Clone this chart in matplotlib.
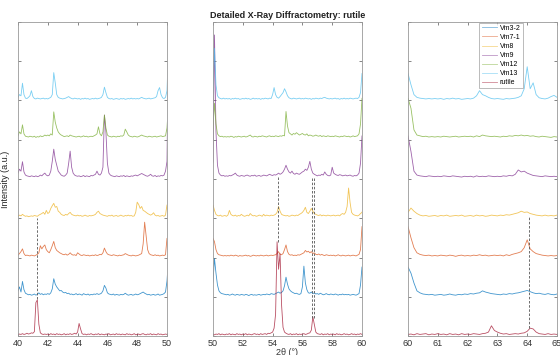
import numpy as np
import matplotlib
matplotlib.use("Agg")
import matplotlib.pyplot as plt

plt.rcParams['font.family'] = ['Liberation Sans', 'DejaVu Sans']

# 2-theta grid, 0.1 deg steps from 40 to 65
two_theta = np.arange(400, 651) / 10.0

samples = ["Vm3-2", "Vm7-1", "Vm8", "Vm9", "Vm12", "Vm13", "rutile"]
offsets = [1, 2, 3, 4, 5, 6, 0]
colors = ["#0072BD", "#D95319", "#EDB120", "#7E2F8E", "#77AC30", "#4DBEEE", "#A2142F"]

vm3_2 = [
    0.15, 0.25, 0.12, 0.39, 0.18, 0.09, 0.07, 0.05, 0.06, 0.04,
    0.05, 0.07, 0.04, 0.06, 0.10, 0.06, 0.08, 0.05, 0.07, 0.06,
    0.08, 0.06, 0.10, 0.20, 0.46, 0.32, 0.25, 0.20, 0.15, 0.16,
    0.12, 0.10, 0.11, 0.08, 0.09, 0.06, 0.07, 0.05, 0.06, 0.08,
    0.05, 0.07, 0.06, 0.04, 0.08, 0.06, 0.05, 0.07, 0.04, 0.06,
    0.05, 0.07, 0.06, 0.08, 0.06, 0.07, 0.09, 0.15, 0.29, 0.22,
    0.10, 0.07, 0.06, 0.05, 0.07, 0.04, 0.06, 0.05, 0.04, 0.06,
    0.05, 0.06, 0.09, 0.06, 0.04, 0.05, 0.06, 0.04, 0.05, 0.07,
    0.05, 0.06, 0.08, 0.10, 0.12, 0.09, 0.07, 0.05, 0.06, 0.04,
    0.05, 0.06, 0.04, 0.05, 0.07, 0.04, 0.05, 0.06, 0.08, 0.12,
    0.40, 0.97, 0.60, 0.30, 0.15, 0.10, 0.08, 0.07, 0.06, 0.05,
    0.06, 0.04, 0.05, 0.07, 0.05, 0.04, 0.06, 0.05, 0.04, 0.06,
    0.05, 0.04, 0.06, 0.05, 0.03, 0.05, 0.06, 0.04, 0.05, 0.04,
    0.05, 0.06, 0.04, 0.05, 0.06, 0.05, 0.07, 0.06, 0.05, 0.08,
    0.07, 0.06, 0.08, 0.10, 0.12, 0.09, 0.11, 0.15, 0.28, 0.50,
    0.32, 0.20, 0.15, 0.12, 0.10, 0.08, 0.09, 0.07, 0.06, 0.08,
    0.25, 0.78, 0.35, 0.18, 0.10, 0.09, 0.12, 0.08, 0.10, 0.07,
    0.08, 0.06, 0.09, 0.07, 0.05, 0.06, 0.08, 0.06, 0.05, 0.07,
    0.06, 0.05, 0.07, 0.06, 0.04, 0.06, 0.05, 0.07, 0.05, 0.06,
    0.05, 0.06, 0.04, 0.05, 0.06, 0.05, 0.04, 0.06, 0.08, 0.30,
    0.76, 0.60, 0.35, 0.15, 0.10, 0.07, 0.06, 0.05, 0.06, 0.04,
    0.05, 0.06, 0.04, 0.05, 0.07, 0.05, 0.04, 0.06, 0.05, 0.07,
    0.06, 0.08, 0.07, 0.09, 0.10, 0.15, 0.12, 0.10, 0.08, 0.07,
    0.06, 0.05, 0.07, 0.06, 0.08, 0.07, 0.09, 0.10, 0.12, 0.14,
    0.16, 0.13, 0.10, 0.08, 0.09, 0.07, 0.06, 0.08, 0.06, 0.05,
    0.07,
]

vm7_1 = [
    0.06, 0.10, 0.15, 0.22, 0.10, 0.05, 0.06, 0.05, 0.04, 0.06,
    0.05, 0.04, 0.06, 0.08, 0.12, 0.30, 0.22, 0.28, 0.32, 0.20,
    0.15, 0.12, 0.20, 0.30, 0.41, 0.25, 0.18, 0.15, 0.12, 0.10,
    0.08, 0.07, 0.09, 0.06, 0.08, 0.12, 0.08, 0.06, 0.07, 0.05,
    0.12, 0.09, 0.06, 0.05, 0.07, 0.06, 0.05, 0.06, 0.04, 0.05,
    0.06, 0.05, 0.07, 0.05, 0.06, 0.08, 0.07, 0.12, 0.24, 0.15,
    0.09, 0.07, 0.06, 0.05, 0.07, 0.06, 0.05, 0.04, 0.06, 0.05,
    0.06, 0.07, 0.10, 0.08, 0.06, 0.05, 0.04, 0.06, 0.05, 0.04,
    0.05, 0.06, 0.08, 0.10, 0.35, 0.90, 0.55, 0.20, 0.10, 0.07,
    0.06, 0.05, 0.07, 0.05, 0.06, 0.04, 0.05, 0.06, 0.05, 0.07,
    0.49, 0.40, 0.20, 0.10, 0.07, 0.06, 0.05, 0.04, 0.05, 0.04,
    0.05, 0.04, 0.06, 0.05, 0.04, 0.06, 0.05, 0.03, 0.05, 0.04,
    0.04, 0.05, 0.06, 0.04, 0.05, 0.03, 0.04, 0.06, 0.05, 0.04,
    0.05, 0.04, 0.06, 0.05, 0.04, 0.05, 0.06, 0.04, 0.05, 0.06,
    0.05, 0.06, 0.07, 0.10, 0.15, 0.08, 0.07, 0.10, 0.20, 0.32,
    0.15, 0.08, 0.06, 0.07, 0.05, 0.06, 0.05, 0.07, 0.06, 0.08,
    0.10, 0.12, 0.18, 0.14, 0.16, 0.12, 0.15, 0.10, 0.12, 0.08,
    0.07, 0.09, 0.06, 0.08, 0.06, 0.05, 0.07, 0.06, 0.05, 0.06,
    0.05, 0.06, 0.04, 0.05, 0.07, 0.05, 0.04, 0.06, 0.05, 0.04,
    0.05, 0.06, 0.04, 0.05, 0.06, 0.05, 0.04, 0.06, 0.08, 0.20,
    0.79, 0.50, 0.25, 0.12, 0.08, 0.06, 0.05, 0.06, 0.04, 0.05,
    0.04, 0.06, 0.05, 0.04, 0.06, 0.05, 0.03, 0.05, 0.06, 0.04,
    0.05, 0.04, 0.06, 0.05, 0.07, 0.05, 0.06, 0.04, 0.05, 0.06,
    0.05, 0.06, 0.04, 0.07, 0.05, 0.08, 0.10, 0.12, 0.15, 0.25,
    0.45, 0.22, 0.15, 0.10, 0.08, 0.06, 0.05, 0.04, 0.05, 0.04,
    0.05,
]

vm8 = [
    0.05, 0.08, 0.06, 0.10, 0.07, 0.05, 0.06, 0.04, 0.05, 0.06,
    0.05, 0.07, 0.06, 0.05, 0.08, 0.10, 0.12, 0.15, 0.10, 0.20,
    0.12, 0.15, 0.25, 0.32, 0.38, 0.28, 0.30, 0.18, 0.15, 0.10,
    0.08, 0.07, 0.10, 0.08, 0.12, 0.15, 0.10, 0.08, 0.07, 0.06,
    0.08, 0.06, 0.07, 0.05, 0.06, 0.08, 0.06, 0.05, 0.07, 0.06,
    0.07, 0.08, 0.10, 0.15, 0.18, 0.12, 0.10, 0.08, 0.07, 0.06,
    0.05, 0.07, 0.06, 0.08, 0.05, 0.06, 0.07, 0.05, 0.06, 0.08,
    0.06, 0.05, 0.07, 0.06, 0.08, 0.06, 0.07, 0.05, 0.06, 0.15,
    0.41, 0.35, 0.25, 0.30, 0.20, 0.18, 0.15, 0.12, 0.10, 0.08,
    0.10, 0.14, 0.08, 0.06, 0.07, 0.05, 0.06, 0.07, 0.05, 0.08,
    0.34, 0.20, 0.10, 0.07, 0.06, 0.08, 0.05, 0.06, 0.07, 0.05,
    0.08, 0.20, 0.10, 0.07, 0.06, 0.08, 0.05, 0.07, 0.06, 0.10,
    0.07, 0.05, 0.06, 0.08, 0.06, 0.12, 0.08, 0.06, 0.07, 0.05,
    0.06, 0.08, 0.07, 0.05, 0.10, 0.06, 0.08, 0.07, 0.06, 0.08,
    0.07, 0.08, 0.10, 0.15, 0.30, 0.18, 0.10, 0.08, 0.07, 0.06,
    0.07, 0.05, 0.06, 0.08, 0.07, 0.06, 0.08, 0.07, 0.10, 0.12,
    0.15, 0.20, 0.28, 0.15, 0.12, 0.18, 0.25, 0.18, 0.12, 0.10,
    0.08, 0.07, 0.09, 0.06, 0.08, 0.07, 0.06, 0.08, 0.07, 0.06,
    0.07, 0.08, 0.06, 0.07, 0.08, 0.06, 0.10, 0.12, 0.10, 0.15,
    0.30, 0.77, 0.40, 0.15, 0.10, 0.08, 0.07, 0.06, 0.08, 0.12,
    0.15, 0.26, 0.18, 0.12, 0.08, 0.06, 0.07, 0.05, 0.06, 0.07,
    0.05, 0.07, 0.06, 0.08, 0.05, 0.06, 0.07, 0.06, 0.08, 0.05,
    0.06, 0.07, 0.05, 0.08, 0.06, 0.07, 0.05, 0.06, 0.08, 0.07,
    0.06, 0.08, 0.07, 0.09, 0.08, 0.10, 0.12, 0.14, 0.18, 0.15,
    0.16, 0.12, 0.10, 0.08, 0.07, 0.06, 0.08, 0.06, 0.07, 0.06,
    0.08,
]

vm9 = [
    0.15, 0.25, 0.20, 0.44, 0.18, 0.10, 0.08, 0.07, 0.06, 0.08,
    0.07, 0.06, 0.08, 0.06, 0.07, 0.10, 0.08, 0.12, 0.15, 0.10,
    0.08, 0.10, 0.20, 0.45, 0.76, 0.50, 0.35, 0.20, 0.15, 0.10,
    0.08, 0.07, 0.10, 0.15, 0.40, 0.71, 0.30, 0.15, 0.10, 0.08,
    0.07, 0.08, 0.06, 0.07, 0.09, 0.06, 0.08, 0.07, 0.06, 0.09,
    0.08, 0.10, 0.12, 0.20, 0.12, 0.10, 0.15, 0.30, 1.63, 1.20,
    0.40, 0.15, 0.10, 0.08, 0.07, 0.06, 0.08, 0.07, 0.06, 0.08,
    0.07, 0.09, 0.06, 0.08, 0.07, 0.06, 0.08, 0.07, 0.09, 0.10,
    0.08, 0.10, 0.12, 0.14, 0.12, 0.10, 0.08, 0.07, 0.09, 0.12,
    0.08, 0.07, 0.09, 0.06, 0.08, 0.07, 0.09, 0.08, 0.10, 0.20,
    0.45, 3.67, 1.20, 0.35, 0.15, 0.10, 0.08, 0.09, 0.07, 0.08,
    0.07, 0.09, 0.08, 0.10, 0.12, 0.15, 0.10, 0.08, 0.07, 0.09,
    0.08, 0.07, 0.09, 0.10, 0.08, 0.07, 0.09, 0.08, 0.10, 0.07,
    0.08, 0.09, 0.07, 0.08, 0.10, 0.09, 0.08, 0.10, 0.12, 0.10,
    0.09, 0.11, 0.10, 0.12, 0.15, 0.12, 0.14, 0.18, 0.25, 0.35,
    0.25, 0.18, 0.15, 0.20, 0.14, 0.12, 0.15, 0.13, 0.12, 0.15,
    0.18, 0.20, 0.25, 0.22, 0.30, 0.45, 0.25, 0.15, 0.12, 0.10,
    0.08, 0.10, 0.09, 0.12, 0.10, 0.18, 0.12, 0.09, 0.08, 0.10,
    0.30, 0.15, 0.12, 0.10, 0.09, 0.11, 0.10, 0.08, 0.09, 0.10,
    0.08, 0.09, 0.10, 0.08, 0.07, 0.09, 0.08, 0.10, 0.15, 0.40,
    1.10, 0.70, 0.20, 0.10, 0.08, 0.07, 0.06, 0.08, 0.07, 0.06,
    0.07, 0.06, 0.08, 0.07, 0.06, 0.08, 0.07, 0.06, 0.05, 0.07,
    0.06, 0.07, 0.05, 0.08, 0.06, 0.07, 0.06, 0.08, 0.07, 0.06,
    0.07, 0.06, 0.08, 0.07, 0.09, 0.08, 0.12, 0.23, 0.18, 0.20,
    0.15, 0.12, 0.09, 0.08, 0.07, 0.06, 0.08, 0.07, 0.06, 0.07,
    0.06,
]

vm12 = [
    0.10, 0.20, 0.15, 0.38, 0.15, 0.09, 0.08, 0.07, 0.09, 0.08,
    0.07, 0.09, 0.06, 0.08, 0.07, 0.10, 0.08, 0.09, 0.12, 0.10,
    0.12, 0.10, 0.15, 0.12, 0.71, 0.45, 0.30, 0.20, 0.15, 0.12,
    0.10, 0.08, 0.09, 0.10, 0.08, 0.12, 0.10, 0.09, 0.08, 0.07,
    0.08, 0.09, 0.07, 0.08, 0.10, 0.08, 0.09, 0.07, 0.08, 0.09,
    0.08, 0.10, 0.12, 0.15, 0.33, 0.15, 0.10, 0.20, 0.63, 0.30,
    0.12, 0.09, 0.08, 0.07, 0.09, 0.08, 0.07, 0.09, 0.08, 0.10,
    0.09, 0.12, 0.27, 0.20, 0.12, 0.09, 0.08, 0.07, 0.09, 0.08,
    0.07, 0.08, 0.10, 0.12, 0.10, 0.09, 0.08, 0.07, 0.09, 0.08,
    0.07, 0.08, 0.09, 0.07, 0.08, 0.09, 0.10, 0.08, 0.09, 0.10,
    0.30, 0.93, 0.40, 0.15, 0.10, 0.08, 0.09, 0.07, 0.08, 0.07,
    0.08, 0.07, 0.09, 0.08, 0.06, 0.08, 0.07, 0.09, 0.08, 0.07,
    0.08, 0.09, 0.07, 0.08, 0.10, 0.12, 0.08, 0.07, 0.09, 0.08,
    0.07, 0.09, 0.08, 0.10, 0.09, 0.08, 0.07, 0.09, 0.10, 0.08,
    0.09, 0.08, 0.10, 0.09, 0.08, 0.10, 0.09, 0.11, 0.10, 0.72,
    0.35, 0.18, 0.15, 0.12, 0.16, 0.14, 0.18, 0.15, 0.12, 0.14,
    0.16, 0.13, 0.12, 0.15, 0.10, 0.12, 0.11, 0.09, 0.10, 0.12,
    0.10, 0.09, 0.11, 0.08, 0.10, 0.09, 0.08, 0.10, 0.09, 0.08,
    0.09, 0.08, 0.10, 0.09, 0.08, 0.07, 0.09, 0.08, 0.10, 0.09,
    0.08, 0.09, 0.07, 0.08, 0.10, 0.08, 0.09, 0.10, 0.15, 0.40,
    1.06, 0.80, 0.25, 0.12, 0.10, 0.08, 0.09, 0.07, 0.08, 0.07,
    0.08, 0.07, 0.09, 0.08, 0.07, 0.08, 0.09, 0.07, 0.08, 0.09,
    0.08, 0.09, 0.07, 0.10, 0.08, 0.12, 0.10, 0.09, 0.08, 0.09,
    0.08, 0.07, 0.09, 0.08, 0.10, 0.09, 0.11, 0.10, 0.12, 0.10,
    0.11, 0.09, 0.10, 0.08, 0.07, 0.09, 0.08, 0.07, 0.06, 0.08,
    0.07,
]

vm13 = [
    0.08, 0.15, 0.12, 0.44, 0.15, 0.06, 0.05, 0.08, 0.12, 0.25,
    0.10, 0.05, 0.04, 0.06, 0.05, 0.04, 0.05, 0.06, 0.04, 0.05,
    0.04, 0.06, 0.08, 0.15, 0.71, 0.45, 0.15, 0.08, 0.06, 0.05,
    0.04, 0.05, 0.06, 0.08, 0.10, 0.07, 0.05, 0.04, 0.06, 0.05,
    0.04, 0.05, 0.03, 0.05, 0.04, 0.06, 0.04, 0.05, 0.03, 0.04,
    0.05, 0.04, 0.06, 0.04, 0.05, 0.06, 0.08, 0.15, 0.34, 0.20,
    0.08, 0.05, 0.04, 0.05, 0.03, 0.04, 0.05, 0.04, 0.03, 0.05,
    0.04, 0.05, 0.03, 0.04, 0.05, 0.04, 0.06, 0.04, 0.05, 0.04,
    0.05, 0.04, 0.06, 0.08, 0.06, 0.05, 0.04, 0.05, 0.06, 0.04,
    0.05, 0.06, 0.07, 0.10, 0.25, 0.33, 0.15, 0.07, 0.05, 0.08,
    0.25, 1.33, 0.40, 0.12, 0.07, 0.05, 0.04, 0.06, 0.04, 0.05,
    0.04, 0.05, 0.03, 0.05, 0.04, 0.06, 0.04, 0.05, 0.03, 0.04,
    0.05, 0.04, 0.06, 0.04, 0.05, 0.03, 0.04, 0.06, 0.04, 0.05,
    0.04, 0.05, 0.03, 0.05, 0.04, 0.06, 0.05, 0.04, 0.06, 0.05,
    0.15, 0.33, 0.15, 0.08, 0.06, 0.10, 0.15, 0.20, 0.30, 0.22,
    0.12, 0.07, 0.05, 0.04, 0.06, 0.05, 0.04, 0.05, 0.06, 0.04,
    0.05, 0.04, 0.06, 0.05, 0.04, 0.05, 0.03, 0.05, 0.04, 0.06,
    0.05, 0.04, 0.06, 0.05, 0.07, 0.08, 0.06, 0.05, 0.04, 0.05,
    0.04, 0.05, 0.06, 0.04, 0.05, 0.03, 0.05, 0.04, 0.06, 0.04,
    0.05, 0.04, 0.06, 0.05, 0.04, 0.05, 0.06, 0.05, 0.08, 0.20,
    0.69, 0.40, 0.15, 0.08, 0.06, 0.05, 0.04, 0.05, 0.04, 0.05,
    0.04, 0.05, 0.03, 0.05, 0.04, 0.06, 0.04, 0.05, 0.03, 0.04,
    0.05, 0.04, 0.06, 0.12, 0.25, 0.15, 0.12, 0.08, 0.05, 0.04,
    0.05, 0.04, 0.03, 0.05, 0.04, 0.05, 0.06, 0.08, 0.12, 0.30,
    0.86, 0.30, 0.45, 0.15, 0.07, 0.05, 0.04, 0.06, 0.10, 0.13,
    0.08,
]

rutile = [
    0.03, 0.05, 0.04, 0.06, 0.04, 0.05, 0.07, 0.05, 0.06, 0.08,
    0.07, 0.11, 0.85, 0.92, 0.30, 0.08, 0.05, 0.04, 0.05, 0.04,
    0.05, 0.03, 0.06, 0.04, 0.05, 0.03, 0.06, 0.04, 0.05, 0.03,
    0.04, 0.06, 0.03, 0.05, 0.04, 0.06, 0.04, 0.05, 0.07, 0.05,
    0.10, 0.32, 0.18, 0.06, 0.04, 0.05, 0.03, 0.05, 0.04, 0.06,
    0.04, 0.03, 0.05, 0.04, 0.06, 0.03, 0.05, 0.04, 0.03, 0.05,
    0.04, 0.06, 0.03, 0.04, 0.05, 0.03, 0.06, 0.04, 0.05, 0.03,
    0.05, 0.04, 0.03, 0.06, 0.04, 0.05, 0.03, 0.04, 0.06, 0.03,
    0.04, 0.05, 0.03, 0.05, 0.06, 0.04, 0.03, 0.05, 0.04, 0.06,
    0.03, 0.05, 0.04, 0.03, 0.06, 0.04, 0.05, 0.03, 0.04, 0.05,
    0.04, 0.03, 0.05, 0.04, 0.06, 0.03, 0.05, 0.04, 0.03, 0.05,
    0.04, 0.06, 0.03, 0.05, 0.04, 0.03, 0.06, 0.04, 0.05, 0.03,
    0.05, 0.04, 0.06, 0.03, 0.05, 0.04, 0.03, 0.05, 0.06, 0.04,
    0.05, 0.03, 0.06, 0.04, 0.05, 0.06, 0.04, 0.07, 0.06, 0.08,
    0.10, 0.20, 0.55, 2.40, 1.70, 2.10, 0.80, 0.22, 0.10, 0.07,
    0.05, 0.04, 0.06, 0.03, 0.05, 0.04, 0.06, 0.03, 0.05, 0.04,
    0.05, 0.06, 0.04, 0.05, 0.07, 0.08, 0.15, 0.49, 0.30, 0.10,
    0.06, 0.05, 0.04, 0.06, 0.03, 0.05, 0.04, 0.06, 0.03, 0.05,
    0.04, 0.05, 0.03, 0.06, 0.04, 0.05, 0.03, 0.04, 0.06, 0.04,
    0.05, 0.03, 0.04, 0.06, 0.04, 0.05, 0.03, 0.05, 0.04, 0.06,
    0.04, 0.05, 0.03, 0.06, 0.04, 0.05, 0.06, 0.03, 0.05, 0.04,
    0.06, 0.04, 0.05, 0.03, 0.06, 0.04, 0.05, 0.03, 0.06, 0.04,
    0.05, 0.04, 0.06, 0.05, 0.04, 0.06, 0.07, 0.10, 0.26, 0.14,
    0.10, 0.07, 0.05, 0.06, 0.04, 0.05, 0.06, 0.05, 0.07, 0.08,
    0.12, 0.20, 0.18, 0.10, 0.06, 0.05, 0.04, 0.06, 0.04, 0.05,
    0.04,
]

intensities = [vm3_2, vm7_1, vm8, vm9, vm12, vm13, rutile]

# rutile reference peaks marked with dashed lines: position, lower end, upper end
ref_peak_pos = [41.3, 54.35, 56.65, 56.75, 64.05]
ref_peak_low = [0.95, 2.40, 0.45, 0.45, 0.20]
ref_peak_high = [3.0, 4.05, 4.05, 4.05, 3.05]

panel_ranges = [(40, 50), (50, 60), (60, 65)]
panel_ticks = [np.arange(40, 51, 2), np.arange(50, 61, 2), np.arange(60, 66, 1)]
panel_left = [18, 213, 408]

fig = plt.figure(figsize=(5.6, 3.55), dpi=100)
axes = []
for k in range(3):
    ax = fig.add_axes([panel_left[k] / 560, 19 / 355, 149 / 560, 314 / 355])
    axes.append(ax)
    for name, off, col, vals in zip(samples, offsets, colors, intensities):
        ax.plot(two_theta, off + np.array(vals), color=col, lw=0.6, alpha=0.75, label=name)
    ax.vlines(ref_peak_pos, ref_peak_low, ref_peak_high, colors='#555555',
              linestyles=(0, (3, 2)), lw=0.6)
    ax.set_xlim(*panel_ranges[k])
    ax.set_ylim(0, 8)
    ax.set_xticks(panel_ticks[k])
    ax.set_yticks(np.arange(0, 9, 1))
    ax.set_yticklabels([])
    ax.tick_params(direction='in', top=True, right=True, length=2.5, width=0.5,
                   labelsize=6.5, colors='#555555', labelcolor='#333333', pad=2)
    for sp in ax.spines.values():
        sp.set_color('#999999')
        sp.set_linewidth(0.6)

axes[0].set_ylabel("Intensity (a.u.)", fontsize=6.5, color='#222222', labelpad=4)
axes[1].set_title("Detailed X-Ray Diffractometry: rutile", fontsize=6.5,
                  fontweight='bold', color='#222222', pad=3)
fig.text(287 / 560, 7 / 355, "2θ (°)", fontsize=6.5, color='#333333',
         ha='center', va='top')

leg = axes[2].legend(loc='upper left', bbox_to_anchor=(0.475, 1.0), fontsize=5,
                     frameon=True, fancybox=False, edgecolor='#888888',
                     handlelength=2.2, labelspacing=0.3, borderpad=0.3,
                     handletextpad=0.4, borderaxespad=0.1)
leg.get_frame().set_linewidth(0.5)
for line in leg.get_lines():
    line.set_alpha(0.5)

fig.savefig("out.png", dpi=100)
